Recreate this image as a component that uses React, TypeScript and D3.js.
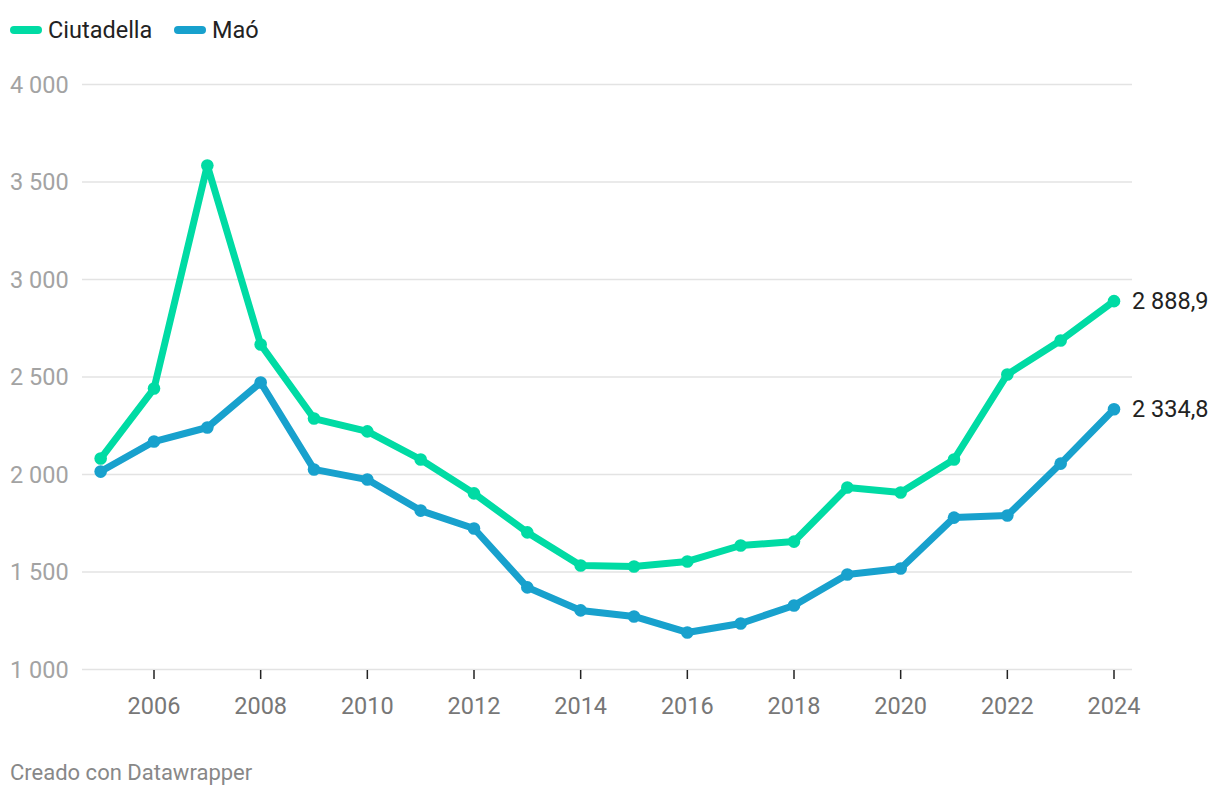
import React from "react";
import * as d3 from "d3";

const years = [2005,2006,2007,2008,2009,2010,2011,2012,2013,2014,2015,2016,2017,2018,2019,2020,2021,2022,2023,2024];
const ciutadella = [2082,2441,3585,2667,2287,2221,2077,1903,1703,1533,1528,1554,1636,1656,1933,1908,2077,2513,2687,2888.9];
const mao = [2015,2169,2241,2472,2026,1974,1815,1723,1421,1303,1272,1190,1236,1328,1487,1518,1779,1790,2056,2334.8];
const yTicks = [1000,1500,2000,2500,3000,3500,4000];
const xTicks = [2006,2008,2010,2012,2014,2016,2018,2020,2022,2024];

const series = [
  { name: "Ciutadella", values: ciutadella, color: "#00dba4", label: "2 888,9" },
  { name: "Maó", values: mao, color: "#18a1cd", label: "2 334,8" },
];

const fmt = (v: number) => d3.format(",")(v).replace(/,/g, " ");

export default function App() {
  const W = 1220, H = 796;
  const x = d3.scaleLinear().domain([2006, 2024]).range([154, 1114]);
  const y = d3.scaleLinear().domain([1000, 4000]).range([669.5, 84.5]);
  const line = d3.line<number>().x((_, i) => x(years[i])).y((d) => y(d));
  const font = "Roboto, sans-serif";
  return (
    <svg width={W} height={H} style={{ position: "absolute", left: 0, top: 0, background: "#fff" }} fontFamily={font}>
      {/* legend */}
      <g>
        <line x1={14} x2={38} y1={30} y2={30} stroke={series[0].color} strokeWidth={8} strokeLinecap="round" />
        <text x={48} y={37.5} fontSize={23.5} fill="#222">Ciutadella</text>
        <line x1={178} x2={202} y1={30} y2={30} stroke={series[1].color} strokeWidth={8} strokeLinecap="round" />
        <text x={212} y={37.5} fontSize={23.5} fill="#222">Maó</text>
      </g>
      {/* grid */}
      {yTicks.map((t) => (
        <g key={t}>
          <line x1={82} x2={1132} y1={y(t)} y2={y(t)} stroke="#e3e3e3" strokeWidth={1.5} />
          <text x={10} y={y(t) + 8} fontSize={23.5} fill="#a3a3a3">{fmt(t)}</text>
        </g>
      ))}
      {/* x ticks */}
      {xTicks.map((t) => (
        <g key={t}>
          <line x1={x(t)} x2={x(t)} y1={670} y2={679} stroke="#222" strokeWidth={1.5} />
          <text x={x(t)} y={713.5} fontSize={23.5} fill="#777" textAnchor="middle">{t}</text>
        </g>
      ))}
      {/* lines */}
      {series.map((s) => (
        <g key={s.name}>
          <path d={line(s.values) || ""} fill="none" stroke={s.color} strokeWidth={7} strokeLinejoin="round" strokeLinecap="round" />
          {s.values.map((v, i) => (
            <circle key={i} cx={x(years[i])} cy={y(v)} r={6.3} fill={s.color} />
          ))}
          <text x={x(2024) + 18} y={y(s.values[s.values.length - 1]) + 8} fontSize={23.5} fill="#222">{s.label}</text>
        </g>
      ))}
      <text x={10} y={780} fontSize={22} fill="#888">Creado con Datawrapper</text>
    </svg>
  );
}
